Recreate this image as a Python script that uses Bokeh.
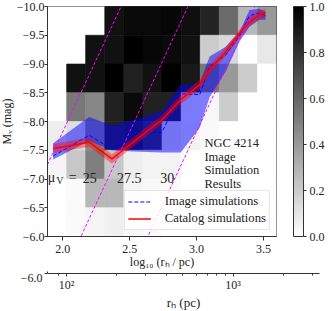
from bokeh.plotting import figure
from bokeh.models import (Range1d, ColumnDataSource, LinearColorMapper, ColorBar,
                          FixedTicker, Legend, LegendItem, Label, CustomJSTickFormatter)
from bokeh.layouts import column
from bokeh.transform import linear_cmap
from bokeh.embed import file_html
from bokeh.resources import INLINE

FONT = "Liberation Serif"
TXT = "#222222"
TICK_FS = "12px"

# ---------------- data ----------------
logr_edges = [1.886, 2.029, 2.171, 2.314, 2.457, 2.600, 2.742,
              2.885, 3.028, 3.170, 3.313, 3.456, 3.598]
mag_edges = [-10.0, -9.5, -9.0, -8.5, -8.0, -7.5, -7.0, -6.5, -6.0]

# recovery fraction per magnitude row (top row = brightest bin)
frac_row0 = [0.00, 0.00, 0.00, 0.93, 0.96, 0.96, 0.97, 0.94, 0.86, 0.58, 0.28, 0.40]
frac_row1 = [0.00, 0.00, 0.93, 0.93, 1.00, 0.97, 0.96, 0.93, 0.20, 0.15, 0.00, 0.09]
frac_row2 = [0.00, 0.93, 0.93, 1.00, 0.87, 0.93, 1.00, 0.90, 0.53, 0.40, 0.20, 0.00]
frac_row3 = [0.00, 0.53, 0.47, 0.87, 0.96, 0.87, 0.87, 0.04, 0.03, 0.20, 0.00, 0.00]
frac_row4 = [0.07, 0.13, 0.45, 0.87, 0.90, 0.80, 0.10, 0.05, 0.02, 0.00, 0.00, 0.00]
frac_row5 = [0.04, 0.22, 0.50, 0.22, 0.07, 0.05, 0.05, 0.00, 0.00, 0.00, 0.00, 0.00]
frac_row6 = [0.00, 0.02, 0.28, 0.28, 0.04, 0.03, 0.02, 0.00, 0.00, 0.00, 0.00, 0.00]
frac_row7 = [0.00, 0.02, 0.04, 0.06, 0.03, 0.02, 0.00, 0.00, 0.00, 0.00, 0.00, 0.00]
frac_rows = [frac_row0, frac_row1, frac_row2, frac_row3,
             frac_row4, frac_row5, frac_row6, frac_row7]

# simulation summaries (log10 r_h)
logr_pts = [1.928, 2.197, 2.368, 2.532, 2.741, 2.882, 3.024,
            3.098, 3.218, 3.322, 3.396, 3.471, 3.515]
img_med = [-7.40, -7.76, -7.52, -7.81, -7.81, -8.48, -8.47,
           -8.95, -9.16, -9.49, -9.84, -9.89, -9.84]
img_hi = [-7.62, -8.08, -7.93, -8.03, -8.18, -8.64, -8.67,
          -9.13, -9.30, -9.56, -9.94, -9.96, -9.91]
img_lo = [-7.34, -7.66, -7.50, -7.48, -7.46, -7.46, -7.89,
          -8.42, -8.87, -9.39, -9.65, -9.77, -9.77]
cat_med = [-7.53, -7.64, -7.35, -7.65, -8.03, -8.38, -8.64,
           -8.90, -9.21, -9.53, -9.73, -9.86, -9.89]
cat_hi = [-7.61, -7.72, -7.43, -7.73, -8.11, -8.46, -8.72,
          -8.98, -9.29, -9.60, -9.81, -9.93, -9.96]
cat_lo = [-7.45, -7.56, -7.27, -7.57, -7.96, -8.30, -8.56,
          -8.82, -9.14, -9.45, -9.66, -9.78, -9.81]

# constant surface-brightness lines: M = mu - mu_zero - 5 log10 r_h
mu_levels = [25.0, 27.5, 30.0]
mu_zero = 22.82

x_ticks = [2.0, 2.5, 3.0, 3.5]
y_ticks = [-10.0, -9.5, -9.0, -8.5, -8.0, -7.5, -7.0, -6.5, -6.0]
cb_ticks = [0.0, 0.2, 0.4, 0.6, 0.8, 1.0]
rh_major = [100, 1000]
rh_minor = [90, 200, 300, 400, 500, 600, 700, 800, 900, 2000, 3000]
rh_range = [76.9, 3303.0]

# ---------------- figure ----------------
grays = ["#%02x%02x%02x" % (v, v, v) for v in range(255, -1, -1)]
mapper = LinearColorMapper(palette=grays, low=0.0, high=1.0)

p = figure(frame_width=229, frame_height=230,
           x_range=Range1d(logr_edges[0], logr_edges[-1]),
           y_range=Range1d(mag_edges[-1], mag_edges[0]),
           output_backend="svg", toolbar_location=None,
           min_border_top=7, min_border_left=49, min_border_right=50,
           min_border_bottom=0)
p.grid.visible = False
p.outline_line_color = "#333333"
p.background_fill_color = "white"

left, right, top, bottom, val = [], [], [], [], []
for i, row in enumerate(frac_rows):
    for j, f in enumerate(row):
        left.append(logr_edges[j]); right.append(logr_edges[j + 1])
        top.append(mag_edges[i]); bottom.append(mag_edges[i + 1]); val.append(f)
src = ColumnDataSource(dict(left=left, right=right, top=top, bottom=bottom, frac=val))
cmap = linear_cmap("frac", grays, 0.0, 1.0)
p.quad(left="left", right="right", top="top", bottom="bottom", source=src,
       fill_color=cmap, line_color=cmap, line_width=0.6)

p.varea(x=logr_pts, y1=img_lo, y2=img_hi, fill_color="blue", fill_alpha=0.5)
r_img = p.line(logr_pts, img_med, line_color="blue", line_width=1, line_dash="4 2")
p.varea(x=logr_pts, y1=cat_lo, y2=cat_hi, fill_color="red", fill_alpha=0.4)
r_cat = p.line(logr_pts, cat_med, line_color="red", line_width=1.5)

xr = [logr_edges[0], logr_edges[-1]]
for mu in mu_levels:
    p.line(xr, [mu - mu_zero - 5 * x for x in xr], line_color="#ff00ff",
           line_width=1, line_dash="3 2")

fmt1 = CustomJSTickFormatter(code="return (tick < 0 ? '\u2212' : '') + Math.abs(tick).toFixed(1);")
for ax in (p.xaxis[0], p.yaxis[0]):
    ax.major_label_text_font = FONT
    ax.major_label_text_font_size = TICK_FS
    ax.major_label_text_color = TXT
    ax.axis_label_text_font = FONT
    ax.axis_label_text_font_size = TICK_FS
    ax.axis_label_text_font_style = "normal"
    ax.axis_label_text_color = TXT
    ax.major_tick_out = 4
    ax.major_tick_in = 0
    ax.minor_tick_out = 0
    ax.minor_tick_in = 0
    ax.axis_line_color = "#333333"
    ax.major_tick_line_color = "#333333"
    ax.formatter = fmt1
p.xaxis.ticker = FixedTicker(ticks=x_ticks)
p.yaxis.ticker = FixedTicker(ticks=y_ticks)
p.xaxis.axis_label = "log\u2081\u2080 (r\u2095 / pc)"
p.yaxis.axis_label = "M\u1d65 (mag)"
p.xaxis.major_label_standoff = 4
p.xaxis.axis_label_standoff = -1
p.yaxis.major_tick_out = 3
p.yaxis.major_label_standoff = 0
p.yaxis.axis_label_standoff = 0

cb = ColorBar(color_mapper=mapper, ticker=FixedTicker(ticks=cb_ticks),
              formatter=CustomJSTickFormatter(code="return tick.toFixed(1);"),
              width=10, height=230, padding=0, margin=0, location=(17, 0),
              bar_line_color="#333333", major_tick_out=3, major_tick_in=0,
              major_tick_line_color="#333333", label_standoff=3,
              major_label_text_font=FONT, major_label_text_font_size=TICK_FS,
              major_label_text_color=TXT)
p.add_layout(cb, "right")

leg = Legend(items=[LegendItem(label="Image simulations", renderers=[r_img]),
                    LegendItem(label="Catalog simulations", renderers=[r_cat])],
             location="bottom_right", margin=6, padding=3, spacing=2,
             glyph_width=23, glyph_height=13, label_height=13, label_standoff=14,
             label_text_font=FONT, label_text_font_size="12.7px", label_text_color=TXT,
             border_line_color="#cccccc", background_fill_alpha=0.85)
p.add_layout(leg, "center")

def lab(x, y, t, size="14px", dx=0, dy=0):
    p.add_layout(Label(x=x, y=y, text=t, x_offset=dx, y_offset=dy, text_font=FONT,
                       text_font_size=size, text_color=TXT, text_baseline="alphabetic",
                       text_align="left"))

lab(1.8875, -7.02, "\u03bc")
lab(1.8875, -7.02, "V", size="10px", dx=8.5, dy=-3)
lab(1.8875, -7.02, "=", dx=21)
lab(1.8875, -7.02, "25", dx=35)
lab(2.406, -7.02, "27.5")
lab(2.7295, -7.02, "30")
lab(3.059, -7.628, "NGC 4214", size="12.5px")
lab(3.059, -7.385, "Image", size="12.5px")
lab(3.059, -7.148, "Simulation", size="12.5px")
lab(3.059, -6.914, "Results", size="12.5px")

# ---------------- secondary r_h axis ----------------
p2 = figure(frame_width=272, frame_height=2, x_axis_type="log",
            x_range=Range1d(rh_range[0], rh_range[1]),
            y_range=Range1d(-6.0, -6.05),
            output_backend="svg", toolbar_location=None,
            min_border_left=49, min_border_right=7, min_border_top=0)
p2.grid.visible = False
p2.outline_line_color = None
p2.xaxis.ticker = FixedTicker(ticks=rh_major, minor_ticks=rh_minor)
p2.xaxis.major_label_overrides = {100: "10\u00b2", 1000: "10\u00b3"}
p2.yaxis.ticker = FixedTicker(ticks=[-6.0])
p2.yaxis.formatter = fmt1
p2.xaxis.axis_label = "r\u2095 (pc)"
for ax in (p2.xaxis[0], p2.yaxis[0]):
    ax.major_label_text_font = FONT
    ax.major_label_text_font_size = TICK_FS
    ax.major_label_text_color = TXT
    ax.axis_label_text_font = FONT
    ax.axis_label_text_font_size = "13px"
    ax.axis_label_text_font_style = "normal"
    ax.axis_label_text_color = TXT
    ax.major_tick_out = 3
    ax.major_tick_in = 0
    ax.minor_tick_out = 2
    ax.minor_tick_in = 0
    ax.axis_line_color = "#333333"
    ax.major_tick_line_color = "#333333"
    ax.minor_tick_line_color = "#333333"
p2.xaxis.major_label_standoff = 1
p2.xaxis.axis_label_standoff = 0
p2.yaxis.major_label_standoff = 2

layout = column(p, p2, spacing=0, margin=(-1, 0, 0, -4))
open("out.html", "w").write(file_html(layout, INLINE))
